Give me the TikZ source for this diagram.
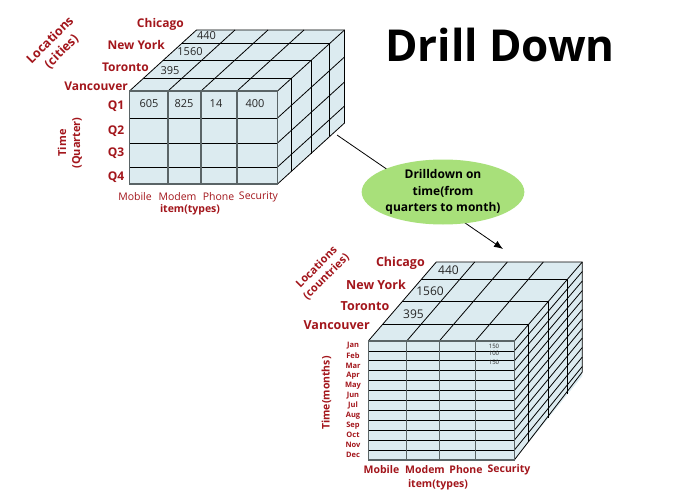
\documentclass[tikz,border=0pt]{standalone}
\usepackage{fontspec}
\setmainfont{Open Sans}
\usetikzlibrary{arrows.meta,shapes.geometric}
\definecolor{lbl}{HTML}{A3161C}
\definecolor{cubefill}{HTML}{DCEBF0}
\definecolor{ellfill}{HTML}{A8E07A}
\definecolor{colline}{HTML}{5A6466}
\tikzset{
  cubeline/.style={draw=black, line width=0.8pt, line join=round},
  colgray/.style={draw=colline, line width=1.3pt},
  redlbl/.style={text=lbl, font=\bfseries\fontsize{12}{14}\selectfont, inner sep=0pt},
  bredlbl/.style={text=lbl, font=\bfseries\fontsize{12.5}{14}\selectfont, inner sep=0pt},
  redsmall/.style={text=lbl, font=\bfseries\fontsize{7.5}{8}\selectfont, inner sep=0pt},
  itemlbl/.style={text=lbl, font=\fontsize{10.5}{12}\selectfont, inner sep=0pt},
  itembold/.style={text=lbl, font=\bfseries\fontsize{10.5}{12}\selectfont, inner sep=0pt},
  val/.style={text=black!85, font=\fontsize{11}{12}\selectfont, inner sep=0pt},
  bval/.style={text=black!85, font=\fontsize{12}{13}\selectfont, inner sep=0pt},
  valsmall/.style={text=black!85, font=\fontsize{6}{6.5}\selectfont, inner sep=0pt},
  axislbl/.style={text=lbl, font=\bfseries\fontsize{11}{13.5}\selectfont, align=center, inner sep=0pt},
}
\begin{document}
\begin{tikzpicture}[x=1pt,y=-1pt]
\fill[white] (0,0) rectangle (700,500);
\useasboundingbox (0,0) rectangle (700,500);

% ---------- top cube ----------
\begin{scope}[shift={(129.5,91)}]
  \fill[cubefill] (0,0) rectangle (148,93);
  \fill[cubefill] (0,0) -- (148,0) -- (215,-61) -- (67,-61) -- cycle;
  \fill[cubefill] (148,0) -- (215,-61) -- (215,32) -- (148,93) -- cycle;
  \foreach \f in {0.21,0.5,0.78}
    \draw[cubeline] ({\f*67},{-\f*61}) -- ({148+\f*67},{-\f*61}) -- ({148+\f*67},{93-\f*61});
  \foreach \x in {38.5,71.5,107.5}
    \draw[cubeline] (\x,0) -- ({\x+67},-61);
  \foreach \y in {27,52,76}
    \draw[cubeline] (148,\y) -- (215,{\y-61});
  \foreach \y in {27,52,76}
    \draw[cubeline] (0,\y) -- (148,\y);
  \foreach \x in {38.5,71.5,107.5}
    \draw[colgray] (\x,0) -- (\x,93);
  \draw[cubeline] (0,0) -- (67,-61) -- (215,-61) -- (215,32) -- (148,93);
  \draw[cubeline] (148,0) -- (215,-61);
  \draw[colgray] (0,0) rectangle (148,93);
\end{scope}

% top cube labels
\node[redlbl, anchor=east] (tchi) at (184,24) {Chicago};
\node[redlbl, anchor=east] (tny) at (165,45) {New York};
\node[redlbl, anchor=east] (ttor) at (149,67) {Toronto};
\node[redlbl, anchor=east] (tvan) at (128,86) {Vancouver};
\node[axislbl, rotate=45, font=\bfseries\fontsize{12.5}{16}\selectfont] (tloc) at (56,46) {Locations\\(cities)};
\node[axislbl, rotate=90, font=\bfseries\fontsize{11}{14}\selectfont] (ttime) at (70,143) {Time\\(Quarter)};
\node[redlbl] (q1) at (116,106) {Q1};
\node[redlbl] (q2) at (116,131) {Q2};
\node[redlbl] (q3) at (116,153) {Q3};
\node[redlbl] (q4) at (116,177) {Q4};
\node[val] (v605) at (149,104) {605};
\node[val] (v825) at (184,104) {825};
\node[val] (v14) at (216,104) {14};
\node[val] (v400) at (255,104) {400};
\node[val] (v440) at (206.5,36) {440};
\node[val] (v1560) at (190,51.5) {1560};
\node[val] (v395) at (170,70.5) {395};
\node[itemlbl] (tmob) at (135,197) {Mobile};
\node[itemlbl] (tmod) at (177.5,197) {Modem};
\node[itemlbl] (tpho) at (218.5,197) {Phone};
\node[itemlbl] (tsec) at (258.5,197) {Security};
\node[itembold] (titem) at (190,210) {item(types)};

% ---------- title ----------
\node[inner sep=0pt, font=\bfseries\fontsize{44}{48}\selectfont] (title) at (500,45) {Drill Down};

% ---------- arrow + ellipse ----------
\coordinate (arrS) at (337,135);
\coordinate (arrE) at (503,249);
\draw[line width=0.8pt, -{Latex[length=9pt,width=7pt]}] (arrS) -- (arrE);
\node[ellipse, fill=ellfill, minimum width=159pt, minimum height=65pt, inner sep=0pt,
      align=center, font=\bfseries\fontsize{12}{16.5}\selectfont] (drill) at (443,192)
  {Drilldown on\\time(from\\quarters to month)};

% ---------- bottom cube ----------
\begin{scope}[shift={(368.3,341)}]
  \fill[cubefill] (0,0) rectangle (146,119);
  \fill[cubefill] (0,0) -- (146,0) -- (214,-79) -- (68,-79) -- cycle;
  \fill[cubefill] (146,0) -- (214,-79) -- (214,35) -- (146,119) -- cycle;
  \foreach \f in {0.21,0.5,0.78}
    \draw[cubeline] ({\f*68},{-\f*79}) -- ({146+\f*68},{-\f*79}) -- ({146+\f*68},{119-\f*84});
  \foreach \x in {38.4,71,107}
    \draw[cubeline] (\x,0) -- ({\x+68},-79);
  \foreach \i in {1,...,11}
    \draw[cubeline] (146,{\i*119/12}) -- (214,{\i*119/12-79-\i*5/12});
  \foreach \i in {1,...,11}
    \draw[cubeline] (0,{\i*119/12}) -- (146,{\i*119/12});
  \foreach \x in {38.4,71,107}
    \draw[colgray] (\x,0) -- (\x,119);
  \draw[cubeline] (0,0) -- (68,-79) -- (214,-79) -- (214,31) -- (146,119);
  \draw[cubeline] (146,0) -- (214,-79);
  \draw[colgray] (0,0) rectangle (146,119);
\end{scope}

% bottom cube labels
\node[bredlbl, anchor=east] (bchi) at (425,263) {Chicago};
\node[bredlbl, anchor=east] (bny) at (406,284.5) {New York};
\node[bredlbl, anchor=east] (btor) at (389.5,306.5) {Toronto};
\node[bredlbl, anchor=east] (bvan) at (370,325) {Vancouver};
\node[axislbl, rotate=45] (bloc) at (321.5,272) {Locations\\(countries)};
\node[axislbl, rotate=90, font=\bfseries\fontsize{10.5}{12}\selectfont] (btime) at (326.5,393) {Time(months)};
\node[bval] (b440) at (448.5,270.5) {440};
\node[bval] (b1560) at (430,291) {1560};
\node[bval] (b395) at (413.5,314) {395};
\foreach \m [count=\i] in {Jan,Feb,Mar,Apr,May,Jun,Jul,Aug,Sep,Oct,Nov,Dec}
  \node[redsmall] (m\i) at (353,{341+(\i-0.5)*119/12}) {\m};
\node[valsmall] (s150a) at (494,346) {150};
\node[valsmall] (s100) at (494,353) {100};
\node[valsmall] (s150b) at (494,362.5) {150};
\node[itembold] (bmob) at (381.5,469.5) {Mobile};
\node[itembold] (bmod) at (425,469.5) {Modem};
\node[itembold] (bpho) at (466,469.5) {Phone};
\node[itembold] (bsec) at (509,469.5) {Security};
\node[itembold] (bitem) at (438,484.5) {item(types)};
\end{tikzpicture}
\end{document}
